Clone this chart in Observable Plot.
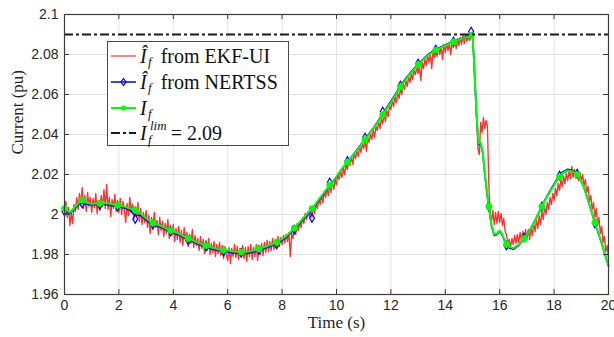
<!DOCTYPE html>
<html><head><meta charset="utf-8">
<script src="https://cdn.jsdelivr.net/npm/d3@7"></script>
<script src="https://cdn.jsdelivr.net/npm/@observablehq/plot@0.6"></script>
<style>
body{margin:0;background:#fff}
#wrap{position:relative;width:614px;height:337px}
#legend{position:absolute;left:107px;top:41px;width:180px;height:103px;border:1px solid #4a4a4a;background:#fff;font-family:'Liberation Serif','DejaVu Serif',serif;font-size:20px;color:#111}
#legend .row{position:absolute;left:2px;height:24px;line-height:24px;white-space:nowrap}
#legend .row svg{position:absolute;left:0;top:6px}
#legend .txt{position:absolute;left:30px;top:0}
.sb{position:absolute;font-size:13px;font-style:italic}
</style>
</head><body>
<div id="wrap">
<div id="chart"></div>
<div id="legend">
 <div class="row" style="top:2px"><svg width="27" height="12"><line x1="1" y1="6" x2="26" y2="6" stroke="#ff3030" stroke-width="1.2"/></svg><span class="txt"><i>Î</i><i class="sb" style="left:8px;top:6px">f</i><span style="margin-left:14px">from EKF-UI</span></span></div>
 <div class="row" style="top:28px"><svg width="27" height="12"><line x1="1" y1="6" x2="26" y2="6" stroke="#0000ff" stroke-width="1.5"/><path d="M13.5,2.5 L16,6 L13.5,9.5 L11,6 Z" fill="none" stroke="#0000ff" stroke-width="1.2"/></svg><span class="txt"><i>Î</i><i class="sb" style="left:8px;top:6px">f</i><span style="margin-left:14px">from NERTSS</span></span></div>
 <div class="row" style="top:54px"><svg width="27" height="12"><line x1="1" y1="6" x2="26" y2="6" stroke="#00ff00" stroke-width="2"/><circle cx="13.5" cy="6" r="2.6" fill="#00ff00"/></svg><span class="txt"><i>I</i><i class="sb" style="left:8px;top:6px">f</i></span></div>
 <div class="row" style="top:79px"><svg width="27" height="12"><line x1="1" y1="6" x2="26" y2="6" stroke="#1a1a1a" stroke-width="2.2" stroke-dasharray="9,3,3,3"/></svg><span class="txt"><i>I</i><i class="sb" style="left:10px;top:-7px">lim</i><i class="sb" style="left:8px;top:7px">f</i><span style="margin-left:24px">= 2.09</span></span></div>
</div>
</div>
<script>
// ---- data ----
const xTicks = [0, 2, 4, 6, 8, 10, 12, 14, 16, 18, 20];
const yTicks = [1.96, 1.98, 2.0, 2.02, 2.04, 2.06, 2.08, 2.1];
const yTickLabels = ["1.96", "1.98", "2", "2.02", "2.04", "2.06", "2.08", "2.1"];
const limValue = 2.09;

// true current I_f (green) and NERTSS estimate (blue) on the same time grid
const tSmooth = [0,0.2,0.4,0.6,0.8,1.0,1.2,1.4,1.6,1.8,2.0,2.2,2.4,2.6,2.8,3.0,3.2,3.4,3.6,3.8,4.0,4.2,4.4,4.6,4.8,5.0,5.2,5.4,5.6,5.8,6.0,6.2,6.4,6.6,6.8,7.0,7.2,7.4,7.6,7.8,8.0,8.2,8.4,8.6,8.8,9.0,9.2,9.4,9.6,9.8,10.0,10.2,10.4,10.6,10.8,11.0,11.2,11.4,11.6,11.8,12.0,12.2,12.4,12.6,12.8,13.0,13.2,13.4,13.6,13.8,14.0,14.2,14.4,14.6,14.8,15.0,
 15.05,15.1,15.15,15.22,15.3,15.38,15.45,15.55,15.6,15.7,15.8,15.9,16.0,16.1,16.2,16.35,16.5,16.7,16.9,17.1,17.3,17.5,17.7,17.9,18.1,18.3,18.5,18.7,18.9,19.1,19.3,19.5,19.7,19.9,20.0];
const greenValues = [2.003,2.001,2.004,2.007,2.006,2.0053,2.0055,2.0057,2.0055,2.005,2.0045,2.004,2.003,2.0023,2.0005,1.998,1.996,1.995,1.994,1.9925,1.9915,1.9905,1.989,1.9878,1.9865,1.9853,1.9845,1.9835,1.9828,1.9823,1.982,1.9815,1.9812,1.9812,1.9815,1.9822,1.983,1.984,1.985,1.9862,1.9878,1.9898,1.9925,1.9955,1.9985,2.0015,2.0048,2.0085,2.012,2.0155,2.019,2.023,2.0262,2.0295,2.033,2.0365,2.040,2.0438,2.0478,2.052,2.056,2.0603,2.0648,2.0685,2.0718,2.0748,2.0775,2.080,2.0818,2.0832,2.0845,2.0858,2.0868,2.0878,2.0888,2.0898,
 2.078,2.064,2.050,2.0355,2.036,2.031,2.021,2.009,2.004,1.9945,1.990,1.9905,1.992,1.990,1.9865,1.9838,1.9832,1.985,1.988,1.992,1.997,2.0025,2.008,2.0125,2.017,2.0205,2.022,2.0215,2.0195,2.0135,2.005,1.996,1.988,1.979,1.9745];
const blueValues = [2.0022,2.0004,2.0032,2.0058,2.0052,2.0048,2.0049,2.0051,2.0048,2.0043,2.0038,2.0033,2.0022,1.9995,1.9995,1.9972,1.9952,1.9943,1.9933,1.9918,1.9908,1.9898,1.9883,1.9871,1.9858,1.9846,1.9838,1.9828,1.9821,1.9816,1.9813,1.9808,1.9805,1.9805,1.9808,1.9815,1.9823,1.9833,1.9843,1.9855,1.9871,1.9891,1.9918,1.9948,1.9978,2.0005,2.0042,2.0080,2.0116,2.0152,2.0188,2.0228,2.0262,2.0296,2.0332,2.0368,2.0404,2.0442,2.0483,2.0525,2.0566,2.0609,2.0654,2.0690,2.0722,2.0752,2.0779,2.0804,2.0821,2.0835,2.0848,2.0860,2.0870,2.0880,2.0890,2.0910,
 2.0775,2.0635,2.0495,2.0350,2.0355,2.0305,2.0205,2.0085,2.0035,1.9940,1.9895,1.9900,1.9915,1.9895,1.9860,1.9832,1.9826,1.9846,1.9878,1.9920,1.9972,2.0028,2.0083,2.0130,2.0176,2.0212,2.0226,2.0220,2.0198,2.0135,2.0048,1.9957,1.9876,1.9786,1.9742];

// marker samples
const markerTimes = [0,0.65,1.3,1.95,2.6,3.25,3.9,4.55,5.2,5.85,6.5,7.15,7.8,8.45,9.1,9.75,10.4,11.05,11.7,12.35,13.0,13.65,14.3,14.95,15.6,16.25,16.9,17.55,18.2,18.85,19.5];
const greenMarkerValues = [2.003,2.0072,2.0056,2.0046,2.0023,1.9958,1.992,1.9881,1.9845,1.9822,1.9812,1.9828,1.9862,1.9932,2.003,2.0147,2.0262,2.0374,2.0499,2.0637,2.0748,2.0822,2.0863,2.0896,2.004,1.9852,1.988,2.0039,2.0188,2.020,1.996];
const blueMarkerValues = [2.0015,2.0055,2.0048,2.0040,1.9978,1.9950,1.9915,1.9870,1.9840,1.9815,1.9808,1.9822,1.9850,1.9925,1.9983,2.0160,2.0268,2.0385,2.0515,2.0645,2.0755,2.0825,2.0865,2.0915,2.0040,1.9845,1.9885,2.0040,2.0195,2.0205,1.9955];

// EKF-UI estimate (red), sampled every 0.05 s from 0 to 20 s
const redStep = 0.05;
const redValues = [
 2.0040,2.0065,1.9985,2.0035,1.9945,2.0010,1.9955,2.0050,2.0015,2.0085,2.0025,2.0105,2.0045,2.0135,2.0030,2.0095,2.0015,2.0110,2.0040,2.0085,
 2.0010,2.0080,2.0035,2.0105,2.0005,2.0070,2.0020,2.0095,2.0040,2.0125,2.0030,2.0150,2.0025,2.0085,1.9990,2.0075,2.0030,2.0100,2.0015,2.0070,
 2.0010,2.0080,2.0000,2.0065,2.0025,1.9960,2.0055,1.9995,2.0085,2.0010,2.0050,1.9975,2.0040,1.9990,2.0060,1.9965,2.0030,1.9950,2.0010,1.9960,
 2.0020,1.9935,1.9995,1.9905,1.9985,1.9925,2.0010,1.9935,1.9970,1.9900,1.9985,1.9920,1.9965,1.9890,1.9955,1.9905,1.9975,1.9880,1.9945,1.9895,
 1.9950,1.9865,1.9930,1.9875,1.9940,1.9860,1.9920,1.9845,1.9935,1.9870,1.9910,1.9840,1.9900,1.9855,1.9925,1.9835,1.9895,1.9845,1.9880,1.9820,
 1.9890,1.9830,1.9875,1.9805,1.9870,1.9820,1.9880,1.9800,1.9855,1.9810,1.9865,1.9790,1.9850,1.9805,1.9860,1.9795,1.9845,1.9780,1.9840,1.9800,
 1.9770,1.9835,1.9755,1.9830,1.9790,1.9850,1.9785,1.9840,1.9775,1.9830,1.9795,1.9845,1.9780,1.9835,1.9765,1.9840,1.9790,1.9850,1.9775,1.9835,
 1.9790,1.9850,1.9770,1.9845,1.9800,1.9855,1.9795,1.9860,1.9810,1.9870,1.9815,1.9865,1.9820,1.9880,1.9825,1.9875,1.9835,1.9890,1.9840,1.9885,
 1.9850,1.9895,1.9860,1.9900,1.9865,1.9910,1.9790,1.9905,1.9880,1.9935,1.9900,1.9955,1.9920,1.9965,1.9935,1.9985,1.9955,2.0005,1.9975,2.0015,
 1.9990,2.0020,1.9985,2.0040,2.0005,2.0055,2.0030,2.0080,2.0050,2.0095,2.0060,2.0115,2.0085,2.0130,2.0095,2.0150,2.0110,2.0165,2.0125,2.0175,
 2.0150,2.0200,2.0175,2.0215,2.0185,2.0235,2.0200,2.0250,2.0225,2.0270,2.0245,2.0290,2.0250,2.0305,2.0280,2.0320,2.0290,2.0340,2.0310,2.0355,
 2.0330,2.0370,2.0315,2.0385,2.0360,2.0405,2.0375,2.0425,2.0385,2.0440,2.0420,2.0465,2.0430,2.0480,2.0455,2.0500,2.0465,2.0520,2.0490,2.0545,
 2.0525,2.0570,2.0540,2.0590,2.0560,2.0610,2.0580,2.0630,2.0600,2.0650,2.0625,2.0670,2.0640,2.0690,2.0660,2.0705,2.0675,2.0720,2.0700,2.0735,
 2.0705,2.0745,2.0670,2.0760,2.0730,2.0775,2.0745,2.0795,2.0760,2.0805,2.0730,2.0815,2.0785,2.0825,2.0790,2.0835,2.0800,2.0840,2.0775,2.0850,
 2.0810,2.0855,2.0820,2.0860,2.0800,2.0865,2.0835,2.0870,2.0830,2.0880,2.0845,2.0885,2.0850,2.0895,2.0855,2.0900,2.0865,2.0895,2.0870,2.0890,
 2.0880,2.0790,2.0640,2.0480,2.0330,2.0300,2.0460,2.0410,2.0485,2.0430,2.0470,2.0440,2.0150,2.0010,1.9965,2.0020,1.9950,2.0010,1.9955,2.0015,
 1.9960,2.0005,1.9945,1.9980,1.9915,1.9900,1.9850,1.9875,1.9840,1.9880,1.9850,1.9895,1.9855,1.9900,1.9860,1.9910,1.9865,1.9915,1.9870,1.9925,
 1.9880,1.9925,1.9875,1.9935,1.9895,1.9955,1.9915,1.9975,1.9930,1.9995,1.9950,2.0015,1.9975,2.0040,2.0000,2.0060,2.0025,2.0085,2.0050,2.0105,
 2.0070,2.0130,2.0095,2.0155,2.0120,2.0175,2.0140,2.0190,2.0155,2.0205,2.0170,2.0215,2.0180,2.0240,2.0185,2.0225,2.0180,2.0215,2.0170,2.0210,
 2.0165,2.0200,2.0145,2.0175,2.0110,2.0140,2.0065,2.0095,2.0025,2.0060,1.9985,2.0030,1.9945,1.9985,1.9905,1.9940,1.9860,1.9890,1.9815,1.9845,
 1.9775
];

// ---- build tables ----
const redData = redValues.map((v, i) => ({t: +(i * redStep).toFixed(2), v}));
const greenData = tSmooth.map((t, i) => ({t, v: greenValues[i]}));
const blueData = tSmooth.map((t, i) => ({t, v: blueValues[i]}));
const greenMarkers = markerTimes.map((t, i) => ({t, v: greenMarkerValues[i]}));
const blueMarkers = markerTimes.map((t, i) => ({t, v: blueMarkerValues[i]}));

const W = 614, H = 337, mL = 64, mR = 6, mT = 14, mB = 43;
const fw = W - mL - mR, fh = H - mT - mB, tk = 5;
const sans = "'Liberation Sans', Arial, sans-serif";
const serif = "'Liberation Serif', 'DejaVu Serif', serif";

const chart = Plot.plot({
  width: W, height: H,
  marginLeft: mL, marginRight: mR, marginTop: mT, marginBottom: mB,
  style: {fontFamily: sans, fontSize: "14px", color: "#262626", background: "#fff", overflow: "visible"},
  x: {domain: [0, 20]},
  y: {domain: [1.96, 2.1]},
  marks: [
    Plot.gridX(xTicks, {stroke: "#e4e4e4", strokeOpacity: 1, strokeWidth: 1}),
    Plot.gridY(yTicks, {stroke: "#e4e4e4", strokeOpacity: 1, strokeWidth: 1}),
    Plot.line(redData, {x: "t", y: "v", stroke: "#ff3030", strokeWidth: 1.35}),
    Plot.line(blueData, {x: "t", y: "v", stroke: "#0000ff", strokeWidth: 1.6}),
    Plot.dot(blueMarkers, {x: "t", y: "v", symbol: "diamond", r: 2.6, stroke: "#0000ff", fill: "none", strokeWidth: 1.2}),
    Plot.line(greenData, {x: "t", y: "v", stroke: "#00ff00", strokeWidth: 2}),
    Plot.dot(greenMarkers, {x: "t", y: "v", r: 2.6, fill: "#00ff00", stroke: "#00ff00"}),
    Plot.ruleY([limValue], {stroke: "#1a1a1a", strokeWidth: 2.2, strokeDasharray: "9,3,3,3"}),
    Plot.frame({stroke: "#3a3a3a", strokeWidth: 1.2}),
    Plot.tickX(xTicks, {x: d => d, stroke: "#3a3a3a", insetTop: fh - tk}),
    Plot.tickX(xTicks, {x: d => d, stroke: "#3a3a3a", insetBottom: fh - tk}),
    Plot.tickY(yTicks, {y: d => d, stroke: "#3a3a3a", insetRight: fw - tk}),
    Plot.tickY(yTicks, {y: d => d, stroke: "#3a3a3a", insetLeft: fw - tk}),
    Plot.axisX(xTicks, {tickSize: 0, tickPadding: 6, label: null, fontSize: 14, fill: "#262626"}),
    Plot.axisY(yTicks, {tickSize: 0, tickPadding: 6, label: null, fontSize: 14, fill: "#262626",
      tickFormat: d => yTickLabels[yTicks.indexOf(d)]}),
    Plot.text(["Time (s)"], {frameAnchor: "bottom", dy: 33, fontFamily: serif, fontSize: 17, fill: "#262626"}),
    Plot.text(["Current (pu)"], {frameAnchor: "left", dx: -47, rotate: -90, fontFamily: serif, fontSize: 17, fill: "#262626"})
  ]
});
document.getElementById("chart").appendChild(chart);
</script>
</body></html>
